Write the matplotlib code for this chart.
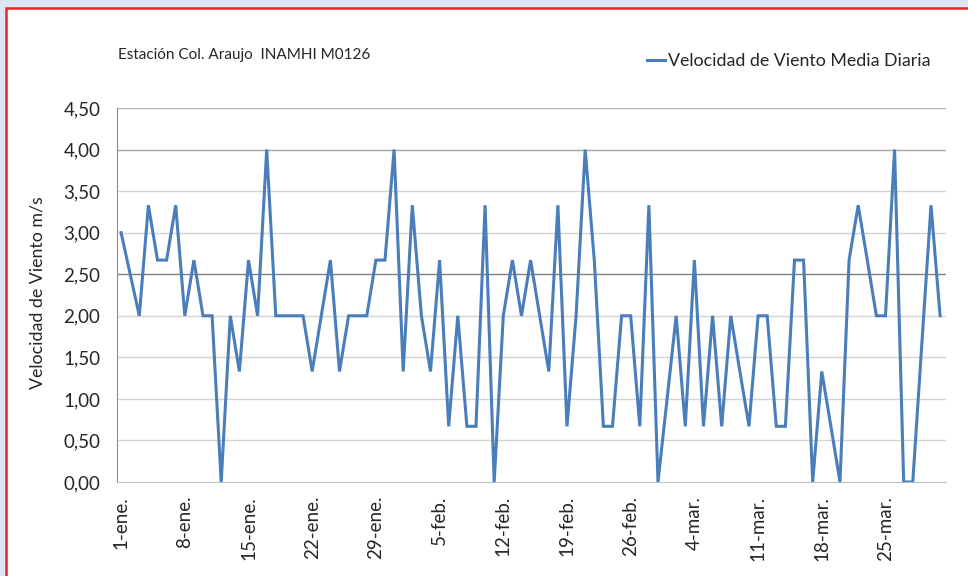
import matplotlib
matplotlib.use("Agg")
import matplotlib.pyplot as plt
from matplotlib.patches import Rectangle
import pandas as pd

# daily mean wind speed, 1 Jan - 31 Mar (leap year)
dias = pd.date_range("2012-01-01", "2012-03-31", freq="D")
velocidad = [
    3.00, 2.50, 2.00, 3.33, 2.67, 2.67, 3.33, 2.00, 2.67, 2.00,
    2.00, 0.00, 2.00, 1.33, 2.67, 2.00, 4.00, 2.00, 2.00, 2.00,
    2.00, 1.33, 2.00, 2.67, 1.33, 2.00, 2.00, 2.00, 2.67, 2.67,
    4.00, 1.33, 3.33, 2.00, 1.33, 2.67, 0.67, 2.00, 0.67, 0.67,
    3.33, 0.00, 2.00, 2.67, 2.00, 2.67, 2.00, 1.33, 3.33, 0.67,
    2.00, 4.00, 2.67, 0.67, 0.67, 2.00, 2.00, 0.67, 3.33, 0.00,
    1.00, 2.00, 0.67, 2.67, 0.67, 2.00, 0.67, 2.00, 1.33, 0.67,
    2.00, 2.00, 0.67, 0.67, 2.67, 2.67, 0.00, 1.33, 0.67, 0.00,
    2.67, 3.33, 2.67, 2.00, 2.00, 4.00, 0.00, 0.00, 1.67, 3.33,
    2.00,
]
meses = {1: "ene", 2: "feb", 3: "mar"}
y_ticks = [0.0, 0.5, 1.0, 1.5, 2.0, 2.5, 3.0, 3.5, 4.0, 4.5]

plt.rcParams["font.family"] = ["Lato", "DejaVu Sans"]
txt = "#262626"

fig = plt.figure(figsize=(9.68, 5.76), dpi=100)
fig.patch.set_facecolor("#dce6f2")

# white panel with red frame (runs off the right and bottom edges)
fig.patches.append(Rectangle((6 / 968, -0.05), 1.0, 1 - 8 / 576 + 0.05,
                             transform=fig.transFigure, facecolor="white",
                             edgecolor="#e5262a", linewidth=1.8, zorder=-10))

ax = fig.add_axes([117 / 968, 1 - 482 / 576, (946 - 117) / 968, (482 - 108) / 576])
ax.set_facecolor("none")

x = list(range(len(velocidad)))
ax.plot(x, velocidad, color="#4a7ebb", linewidth=2.2, solid_joinstyle="miter",
        label="Velocidad de Viento Media Diaria", zorder=3)

ax.set_xlim(-0.45, len(velocidad) - 0.35)
ax.set_ylim(0, 4.5)

ax.set_yticks(y_ticks)
ax.set_yticklabels([f"{v:.2f}".replace(".", ",") for v in y_ticks], fontsize=13.5, color=txt)
grid_col = {2.5: "#808080", 4.0: "#a6a6a6", 4.5: "#b3b3b3"}
for v in y_ticks[1:]:
    ax.axhline(v, color=grid_col.get(v, "#d4d4d4"), linewidth=1.0, zorder=1)

pos = x[::7]
ax.set_xticks(pos)
ax.set_xticklabels([f"{dias[i].day}-{meses[dias[i].month]}." for i in pos],
                   rotation=90, fontsize=13.5, color=txt)
ax.tick_params(axis="y", length=0, pad=12)
ax.tick_params(axis="x", length=0, pad=10)

for s in ["top", "right"]:
    ax.spines[s].set_visible(False)
ax.spines["left"].set_color("#8c8c8c")
ax.spines["bottom"].set_color("#bfbfbf")

fig.text(38 / 968, 1 - 293 / 576, "Velocidad de Viento m/s", rotation=90,
         fontsize=12.8, color=txt, ha="center", va="center")

fig.text(118 / 968, 1 - 55 / 576, "Estación Col. Araujo  INAMHI M0126",
         fontsize=11, color=txt, va="center")
ax.legend(loc="upper left", bbox_to_anchor=(638 / 968, 1 - 44 / 576),
          bbox_transform=fig.transFigure, frameon=False, fontsize=12.8,
          handlelength=1.0, handletextpad=0.2, borderpad=0, labelcolor=txt)

fig.savefig("out.png", dpi=100)
